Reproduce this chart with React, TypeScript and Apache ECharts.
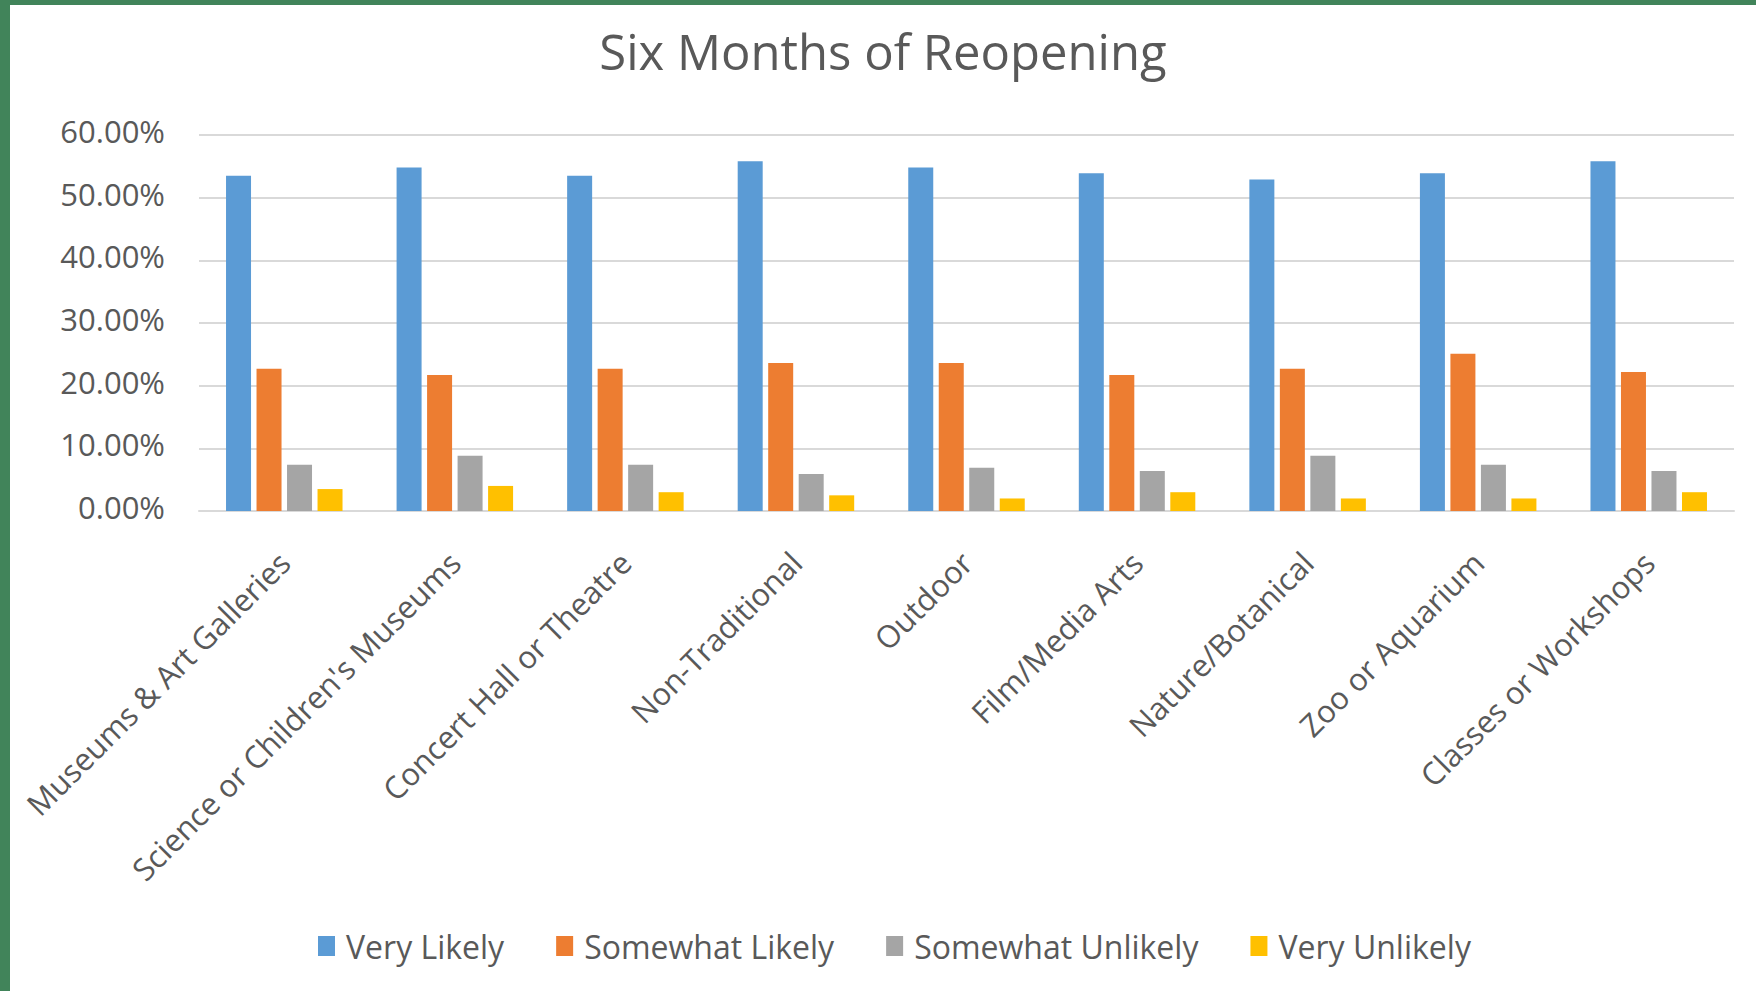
import React, { useEffect, useRef } from "react";
import * as echarts from "echarts";

const categories = [
  "Museums & Art Galleries",
  "Science or Children's Museums",
  "Concert Hall or Theatre",
  "Non-Traditional",
  "Outdoor",
  "Film/Media Arts",
  "Nature/Botanical",
  "Zoo or Aquarium",
  "Classes or Workshops",
];
const seriesNames = ["Very Likely", "Somewhat Likely", "Somewhat Unlikely", "Very Unlikely"];
const veryLikely = [53.5, 54.8, 53.5, 55.8, 54.8, 53.9, 52.9, 53.9, 55.8];
const somewhatLikely = [22.7, 21.7, 22.7, 23.6, 23.6, 21.7, 22.7, 25.1, 22.2];
const somewhatUnlikely = [7.4, 8.8, 7.4, 5.9, 6.9, 6.4, 8.8, 7.4, 6.4];
const veryUnlikely = [3.5, 4.0, 3.0, 2.5, 2.0, 3.0, 2.0, 2.0, 3.0];
const colors = ["#5B9BD5", "#ED7D31", "#A5A5A5", "#FFC000"];
const yTicks = { min: 0, max: 60, interval: 10 };

export default function App() {
  const ref = useRef<HTMLDivElement>(null);
  useEffect(() => {
    document.body.style.margin = "0";
    const chart = echarts.init(ref.current!, null, { renderer: "svg" });
    const values = [veryLikely, somewhatLikely, somewhatUnlikely, veryUnlikely];
    chart.setOption({
      animation: false,
      color: colors,
      title: {
        text: "Six Months of Reopening",
        left: "center",
        top: 16,
        textStyle: { fontFamily: "Open Sans", fontSize: 49, fontWeight: "normal", color: "#595959" },
      },
      legend: {
        data: seriesNames,
        bottom: 24,
        left: 303,
        itemWidth: 17,
        itemHeight: 20,
        itemGap: 52,
        icon: "rect",
        textStyle: { fontFamily: "Open Sans", fontSize: 32, color: "#595959", padding: [0, 0, 0, 6] },
      },
      grid: { left: 189, right: 22, top: 130, bottom: 480, containLabel: false },
      xAxis: {
        type: "category",
        data: categories,
        axisLine: { lineStyle: { color: "#D9D9D9", width: 2 } },
        axisTick: { show: false },
        axisLabel: {
          rotate: 45,
          interval: 0,
          margin: 46,
          fontFamily: "Open Sans",
          fontSize: 31,
          color: "#595959",
        },
      },
      yAxis: {
        type: "value",
        min: yTicks.min,
        max: yTicks.max,
        interval: yTicks.interval,
        axisLine: { show: false },
        axisTick: { show: false },
        splitLine: { lineStyle: { color: "#D9D9D9", width: 2 } },
        axisLabel: {
          margin: 34,
          fontFamily: "Open Sans",
          fontSize: 31,
          color: "#595959",
          verticalAlign: "bottom",
          lineHeight: 8,
          formatter: (v: number) => v.toFixed(2) + "%",
        },
      },
      series: seriesNames.map((name, i) => ({
        name,
        type: "bar",
        data: values[i],
        barWidth: 25,
        barGap: "22%",
        itemStyle: { color: colors[i] },
      })),
    });
    return () => chart.dispose();
  }, []);
  return (
    <div
      style={{
        width: 1756,
        height: 991,
        boxSizing: "border-box",
        borderLeft: "10px solid #41845A",
        borderTop: "5px solid #41845A",
        background: "#fff",
      }}
    >
      <div ref={ref} style={{ width: 1746, height: 986 }} />
    </div>
  );
}
